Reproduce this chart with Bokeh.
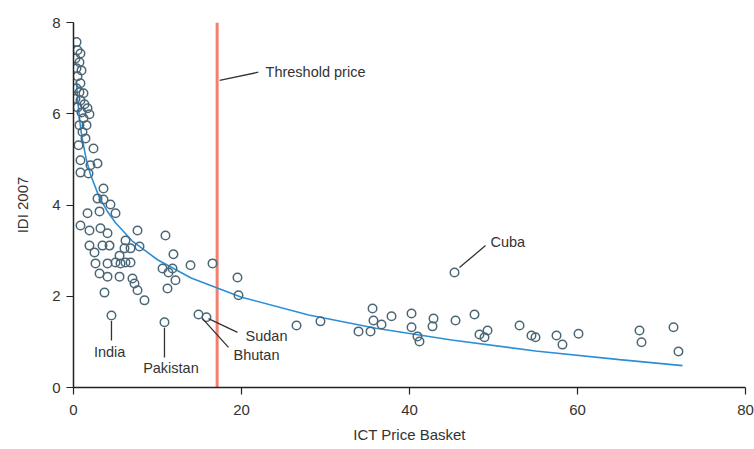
from bokeh.plotting import figure
from bokeh.models import Range1d, FixedTicker, ColumnDataSource
from bokeh.core.properties import value
from bokeh.embed import file_html
from bokeh.resources import INLINE

# ICT Price Basket (x) vs IDI 2007 (y), unlabeled countries
price = [0.36, 0.48, 0.83, 0.24, 0.71, 0.36, 0.95, 0.48, 0.83, 0.36, 0.71, 1.19, 0.24, 0.83, 1.31,
         0.48, 0.95, 1.67, 1.9, 1.19, 0.71, 1.43, 0.6, 2.38, 0.83, 2.02, 2.86, 0.83, 1.79, 3.57,
         1.07, 1.55,
         2.86, 3.57, 4.4, 3.1, 5.0, 1.67, 0.83, 1.9, 3.21, 4.05, 7.62, 10.95, 1.9, 3.45, 4.29,
         6.19, 6.79, 7.86, 2.5, 6.07, 5.48, 11.9, 2.62, 4.05, 5.0, 5.6, 6.19, 6.79, 10.6, 11.79,
         13.93, 16.55, 3.1, 4.05, 5.48, 7.02, 7.26, 7.62, 11.31, 12.14, 11.19, 3.69, 8.45, 19.52,
         19.64,
         26.55, 29.4, 33.93, 35.36, 35.6, 35.71, 36.67, 37.86, 40.24, 40.24, 40.95, 41.19, 42.74,
         42.86, 45.48, 47.74, 48.33, 48.93, 49.29, 53.1, 54.52, 55.0, 57.5, 58.21, 60.12, 67.38,
         67.62, 71.43, 72.02]
idi = [7.57, 7.39, 7.32, 7.21, 7.13, 7.0, 6.95, 6.82, 6.67, 6.56, 6.47, 6.45, 6.33, 6.29, 6.21,
       6.14, 6.03, 6.12, 5.99, 5.9, 5.75, 5.46, 5.31, 5.24, 4.98, 4.87, 4.91, 4.71, 4.69, 4.36,
       5.6, 5.75,
       4.14, 4.12, 4.01, 3.86, 3.82, 3.82, 3.55, 3.44, 3.49, 3.38, 3.44, 3.33, 3.11, 3.11, 3.11,
       3.22, 3.05, 3.09, 2.96, 3.05, 2.89, 2.92, 2.72, 2.72, 2.74, 2.72, 2.74, 2.74, 2.61, 2.61,
       2.68, 2.72, 2.5, 2.43, 2.43, 2.39, 2.28, 2.13, 2.52, 2.35, 2.17, 2.08, 1.91, 2.41,
       2.02,
       1.36, 1.45, 1.23, 1.23, 1.73, 1.47, 1.38, 1.56, 1.62, 1.32, 1.12, 1.01, 1.34,
       1.51, 1.47, 1.60, 1.16, 1.10, 1.25, 1.36, 1.14, 1.10, 1.14, 0.94, 1.18, 1.25,
       0.99, 1.32, 0.79]

# Labeled countries
countries = ["India", "Pakistan", "Bhutan", "Sudan", "Cuba"]
country_price = [4.52, 10.83, 14.88, 15.83, 45.36]
country_idi = [1.58, 1.43, 1.60, 1.54, 2.52]

# Logarithmic trend line
trend_price = [0.35, 0.5, 0.75, 1, 1.5, 2, 3, 4, 5, 7, 10, 14, 20, 28, 36, 45, 55, 65, 72.5]
trend_idi = [6.72, 6.30, 5.83, 5.49, 5.02, 4.68, 4.20, 3.87, 3.61, 3.21, 2.80, 2.40, 1.98, 1.59,
             1.30, 1.04, 0.80, 0.61, 0.48]

threshold_price = 17.1

x_ticks = [0, 20, 40, 60, 80]
y_ticks = [0, 2, 4, 6, 8]

FONT = "Liberation Sans"
TXT = "#333333"

p = figure(width=754, height=449, output_backend="svg", toolbar_location=None,
           x_range=Range1d(0, 80), y_range=Range1d(0, 8),
           min_border_left=73, min_border_right=9, min_border_top=22, min_border_bottom=62)
p.grid.visible = False
p.outline_line_color = None
p.background_fill_color = "white"

for ax in (p.xaxis[0], p.yaxis[0]):
    ax.axis_line_color = "#222222"
    ax.axis_line_width = 1.5
    ax.major_tick_line_color = "#222222"
    ax.major_tick_line_width = 1.2
    ax.major_tick_out = 7
    ax.major_tick_in = 0
    ax.minor_tick_line_color = None
    ax.major_label_text_font = FONT
    ax.major_label_text_font_size = "15px"
    ax.major_label_text_color = TXT
    ax.axis_label_text_font = FONT
    ax.axis_label_text_font_size = "15px"
    ax.axis_label_text_font_style = "normal"
    ax.axis_label_text_color = TXT

p.xaxis.ticker = FixedTicker(ticks=x_ticks)
p.yaxis.ticker = FixedTicker(ticks=y_ticks)
p.xaxis.axis_label = "ICT Price Basket"
p.yaxis.axis_label = "IDI 2007"
p.xaxis.major_label_standoff = 10
p.xaxis.axis_label_standoff = 8
p.yaxis.major_label_standoff = 6
p.yaxis.axis_label_standoff = 18

# threshold line
p.segment(x0=[threshold_price], y0=[0], x1=[threshold_price], y1=[8],
          line_color="#f2806f", line_width=3)

# trend
p.line(trend_price, trend_idi, line_color="#2b8fd8", line_width=1.6)

# points
mk = dict(size=8.5, line_color="#4b6675", line_width=1.5, fill_color="white", fill_alpha=0.0)
p.scatter(price, idi, **mk)
p.scatter(country_price, country_idi, **mk)

# annotation leaders
lead_x0 = [4.52, 10.83, 15.36, 16.07, 45.95, 17.4]
lead_y0 = [1.46, 1.31, 1.51, 1.51, 2.63, 6.73]
lead_x1 = [4.52, 10.83, 18.45, 19.52, 49.05, 22.0]
lead_y1 = [1.03, 0.66, 0.88, 1.21, 3.11, 6.91]
p.segment(lead_x0, lead_y0, lead_x1, lead_y1, line_color="#333333", line_width=1.3)

label_text = ["India", "Pakistan", "Bhutan", "Sudan", "Cuba", "Threshold price"]
label_x = [4.3, 11.6, 19.05, 20.48, 49.64, 22.86]
label_y = [0.77, 0.42, 0.72, 1.12, 3.18, 6.91]
label_align = ["center", "center", "left", "left", "left", "left"]
src = ColumnDataSource(dict(x=label_x, y=label_y, t=label_text, a=label_align))
p.text(x="x", y="y", text="t", source=src, text_align="a", text_baseline="middle",
       text_font=value(FONT), text_font_size="14.5px", text_color=TXT)

open("out.html", "w").write(file_html(p, INLINE))
